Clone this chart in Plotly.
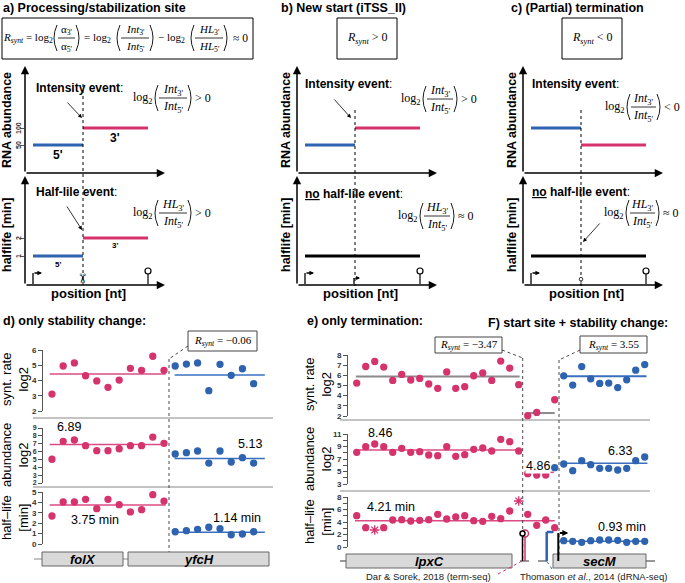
import plotly.graph_objects as go

W, H = 685, 583
PINK = '#d6336c'
PINK_LINE = '#dc4a84'
BLUE = '#2e63b0'
BLUE_LINE = '#3a6fbf'
GREY = '#8a8a8a'
SANS = 'Liberation Sans, Arial, sans-serif'
SERIF = 'Liberation Serif, Times New Roman, serif'

# ---- schematics a) b) c)  (position in nt, abundance, half-life) ----
schem_5p = [0, 100]
schem_3p = [100, 230]
schem_site = 100
a_abund = [50, 100]   # 5', 3'
b_abund = [50, 100]
c_abund = [100, 50]
a_hl = [1, 2]
b_hl = [1, 1]
c_hl = [1, 1]

# ---- d) folX / yfcH ----
folx_pos = [0, 1, 2, 3, 4, 5, 6, 7, 8, 9, 10]
yfch_pos = [11, 12, 13, 14, 15, 16, 17, 18]
folx_synt = [3.11, 4.95, 5.15, 4.31, 3.97, 3.55, 4.03, 4.80, 4.67, 5.59, 4.67]
yfch_synt = [4.95, 5.08, 5.15, 3.33, 5.06, 4.34, 4.77, 3.79]
folx_abund = [5.02, 7.31, 7.47, 6.75, 6.11, 6.11, 6.36, 6.75, 6.75, 7.85, 7.05]
yfch_abund = [5.69, 5.86, 6.07, 4.54, 6.07, 4.67, 5.22, 4.54]
folx_hl = [2.69, 4.04, 4.04, 4.30, 3.40, 4.30, 3.78, 3.08, 3.30, 4.74, 4.13]
yfch_hl = [1.18, 1.28, 1.41, 1.61, 1.47, 0.89, 0.96, 1.18]
d_means = {'synt': [4.43, 4.36], 'abund': [6.89, 5.13], 'hl': [3.75, 1.14]}

# ---- e/F) lpxC / intergenic / secM ----
lpxc_pos = [0, 1, 2, 3, 4, 5, 6, 7, 8, 9, 10, 11, 12, 13, 14, 15, 16, 17, 18]
lpxc_synt = [5.24, 6.87, 7.36, 6.81, 5.50, 6.09, 5.54, 5.70, 5.15, 4.72, 6.34, 4.72,
             4.88, 5.96, 6.23, 5.50, 7.40, 6.71, 5.08]
lpxc_abund = [8.07, 8.97, 9.40, 8.97, 8.07, 8.71, 8.07, 8.17, 7.64, 7.53, 8.97, 7.43,
              7.69, 8.55, 8.76, 8.28, 10.15, 9.77, 8.28]
lpxc_hl_pos = [0, 1, 3, 4, 5, 6, 7, 8, 9, 10, 11, 12, 13, 14, 15, 16, 17]
lpxc_hl = [5.01, 3.09, 3.09, 4.32, 4.37, 4.16, 4.27, 4.37, 5.23, 4.48, 4.80, 5.01,
           4.21, 4.11, 4.91, 4.53, 5.76]
lpxc_hl_star_pos = [2, 18]
lpxc_hl_star = [2.72, 7.36]
mid_pos = [19, 20, 21, 22]
mid_synt = [2.03, 2.35, 1.90, 3.60]
mid_abund_pos = [19, 20, 21]
mid_abund = [4.65, 4.44, 4.44]
mid_hl = [5.23, 3.47, 4.32, 3.09]
secm_pos = [23, 24, 25, 26, 27, 28, 29, 30, 31, 32]
secm_synt = [5.95, 5.04, 6.86, 5.66, 5.20, 5.24, 4.80, 5.56, 6.51, 7.06]
secm_abund_pos = [22, 23, 24, 25, 26, 27, 28, 29, 30, 31, 32]
secm_abund = [5.61, 6.20, 5.13, 6.73, 6.09, 5.51, 5.51, 5.24, 5.51, 6.73, 7.32]
secm_hl = [1.01, 0.91, 0.75, 1.01, 1.12, 1.12, 1.07, 0.75, 0.91, 0.91]
e_means = {'synt': [5.88, 2.29, 5.92], 'abund': [8.46, 4.86, 6.33], 'hl': [4.21, 0.93]}


def X(p):
    return p / W


def Y(p):
    return 1 - p / H


fig = go.Figure()
ann = []
shp = []
lay = {}
nax = [0]


def txt(x, y, s, size=12, family=SANS, anchor='left', color='black', angle=0, bold=False, bg=None):
    d = dict(x=X(x), y=Y(y), xref='paper', yref='paper', text=s, showarrow=False,
             xanchor=anchor, yanchor='middle', textangle=angle, borderpad=0,
             font=dict(size=size, family=family, color=color, weight='bold' if bold else 'normal'))
    if bg:
        d['bgcolor'] = bg
    ann.append(d)


def seg(x0, y0, x1, y1, color='black', width=1, dash=None):
    shp.append(dict(type='line', xref='paper', yref='paper', x0=X(x0), y0=Y(y0), x1=X(x1), y1=Y(y1),
                    line=dict(color=color, width=width, dash=dash)))


def rect(x0, y0, x1, y1, fill='rgba(0,0,0,0)', color='black', width=1):
    shp.append(dict(type='rect', xref='paper', yref='paper', x0=X(x0), y0=Y(y0), x1=X(x1), y1=Y(y1),
                    fillcolor=fill, line=dict(color=color, width=width)))


def arrow(x0, y0, x1, y1, width=1, size=1, head=2, color='black'):
    ann.append(dict(x=X(x1), y=Y(y1), ax=x0 - x1, ay=y0 - y1, xref='paper', yref='paper',
                    axref='pixel', ayref='pixel', text='', showarrow=True, arrowhead=head,
                    arrowsize=size, arrowwidth=width, arrowcolor=color, standoff=0))


def paren(x, y, h, left=True):
    c = x - 6 if left else x + 6
    shp.append(dict(type='path', xref='paper', yref='paper',
                    path=f'M {X(x)},{Y(y - h)} Q {X(c)},{Y(y)} {X(x)},{Y(y + h)}',
                    line=dict(color='black', width=0.9)))


def frac(x, y, fw, num, den, size=12):
    paren(x + 4, y, 13, True)
    seg(x + 5, y, x + 5 + fw, y, width=0.8)
    txt(x + 5 + fw / 2, y - 8, num, size, SERIF, 'center')
    txt(x + 5 + fw / 2, y + 9, den, size, SERIF, 'center')
    paren(x + 6 + fw, y, 13, False)
    return x + 11 + fw


def log_ratio(x, y, num, den, rhs, fw=28, size=12):
    txt(x, y, 'log<sub>2</sub>', size, SERIF)
    r = frac(x + 22, y, fw, num, den, size)
    txt(r + 1, y, rhs, size, SERIF)


def tss(x, y0, h, w, color='black', width=1.3, size=0.7):
    seg(x, y0, x, y0 - h, color, width)
    arrow(x, y0 - h, x + w, y0 - h, width=width, size=size, color=color)


def lolli(x, y0, h, r, color='black', width=1.2):
    seg(x, y0, x, y0 - h, color, width)
    shp.append(dict(type='circle', xref='paper', yref='paper', x0=X(x - r), x1=X(x + r),
                    y0=Y(y0 - h), y1=Y(y0 - h - 2 * r), fillcolor='white',
                    line=dict(color=color, width=width)))


def axes(xd, yd, xr, yr, ticks=None, labels=None, tsize=8, line=True, showlabels=True):
    nax[0] += 1
    s = '' if nax[0] == 1 else str(nax[0])
    lay['xaxis' + s] = dict(domain=[X(xd[0]), X(xd[1])], range=xr, visible=False,
                            anchor='y' + s, fixedrange=True)
    ya = dict(domain=[Y(yd[1]), Y(yd[0])], range=yr, anchor='x' + s, showgrid=False,
              zeroline=False, showline=line, linecolor='#555', linewidth=1, fixedrange=True)
    if ticks is not None:
        ya.update(tickmode='array', tickvals=ticks,
                  ticktext=labels if labels else [str(v) for v in ticks],
                  ticks='outside', ticklen=4, tickcolor='#555', showticklabels=showlabels,
                  tickfont=dict(size=tsize, family=SANS, color='#333', weight='bold'))
    else:
        ya.update(showticklabels=False, ticks='')
    lay['yaxis' + s] = ya
    return 'x' + s, 'y' + s


def dots(ax, xs, ys, color, size=6, symbol='circle'):
    fig.add_trace(go.Scatter(x=xs, y=ys, mode='markers', xaxis=ax[0], yaxis=ax[1],
                             marker=dict(color=color, size=size, symbol=symbol,
                                         line=dict(color=color, width=1.3)),
                             cliponaxis=False, hoverinfo='skip'))


def hline(ax, x0, x1, v, color, width=1.5):
    fig.add_trace(go.Scatter(x=[x0, x1], y=[v, v], mode='lines', xaxis=ax[0], yaxis=ax[1],
                             line=dict(color=color, width=width), cliponaxis=False,
                             hoverinfo='skip'))


# =================== schematics ===================
SX = [-16, 260]
panels = [  # x domain left, abundance, half-life, tick labels
    (25, a_abund, a_hl, True),
    (297, b_abund, b_hl, False),
    (523, c_abund, c_hl, False),
]
for k, (x0, ab, hl, tk) in enumerate(panels):
    up = axes((x0, x0 + 138), (67, 173), SX, [-32, 279],
              ticks=a_abund if tk else None, line=False, showlabels=False)
    lo = axes((x0, x0 + 138), (177, 285), SX, [-0.61, 5.39],
              ticks=a_hl if tk else None, line=False, showlabels=False)
    hline(up, schem_5p[0], schem_5p[1], ab[0], BLUE, 3)
    hline(up, schem_3p[0], schem_3p[1], ab[1], PINK, 3)
    if hl[0] == hl[1]:
        hline(lo, schem_5p[0], schem_3p[1], hl[0], 'black', 3)
    else:
        hline(lo, schem_5p[0], schem_5p[1], hl[0], BLUE, 3)
        hline(lo, schem_3p[0], schem_3p[1], hl[1], PINK, 3)
    # axis arrows
    arrow(x0, 173, x0, 66, width=1.5, size=1.1)
    arrow(x0, 173, x0 + 140, 173, width=1.5, size=1.1)
    arrow(x0, 285, x0, 176, width=1.5, size=1.1)
    arrow(x0, 285, x0 + 140, 285, width=1.5, size=1.1)
    # site marker
    site_px = x0 + (schem_site - SX[0]) / (SX[1] - SX[0]) * 138
    top = 84 if k == 0 else 110
    seg(site_px, top, site_px, 286, width=1, dash='dot')
    start_px = x0 + (schem_5p[0] - SX[0]) / (SX[1] - SX[0]) * 138
    end_px = x0 + (schem_3p[1] - SX[0]) / (SX[1] - SX[0]) * 138
    tss(start_px, 284, 11, 9)
    lolli(end_px, 284, 10, 3)
    off = 18 if tk else 11
    txt(x0 - off, 120, 'RNA abundance', 12.5, bold=True, angle=-90, anchor='center')
    txt(x0 - off, 235, 'halflife [min]', 12.5, bold=True, angle=-90, anchor='center')
    txt(x0 + 63, 293, 'position [nt]', 13, bold=True, anchor='center')

# rotated tick labels of panel a
for v, yy in zip(a_abund, [145, 128]):
    txt(18, yy, str(v), 7, bold=True, angle=-90, anchor='center', color='#333')
for v, yy in zip(a_hl, [256, 238]):
    txt(18, yy, str(v), 7, bold=True, angle=-90, anchor='center', color='#333')

# panel a extras
txt(2, 8, 'a) Processing/stabilization site', 12.5, bold=True)
rect(2, 18, 253, 59)
txt(2, 38, '<i>R</i><sub><i>synt</i></sub> = log<sub>2</sub>', 11, SERIF)
r = frac(53, 38, 17, 'α<sub>3\'</sub>', 'α<sub>5\'</sub>', 11)
txt(r + 2, 38, '= log<sub>2</sub>', 11, SERIF)
r = frac(r + 35, 38, 28, '<i>Int</i><sub>3\'</sub>', '<i>Int</i><sub>5\'</sub>', 11)
txt(r + 2, 38, '− log<sub>2</sub>', 11, SERIF)
r = frac(r + 35, 38, 28, '<i>HL</i><sub>3\'</sub>', '<i>HL</i><sub>5\'</sub>', 11)
txt(r + 3, 38, '≈ 0', 11.5, SERIF)
txt(35, 88, '<b>Intensity event</b>:', 12)
log_ratio(132, 98, '<i>Int</i><sub>3\'</sub>', '<i>Int</i><sub>5\'</sub>', '> 0')
arrow(66, 101, 82, 118, width=0.8, size=1)
txt(58, 155, "5'", 12, bold=True, anchor='center')
txt(115, 138, "3'", 12, bold=True, anchor='center')
txt(35, 192, '<b>Half-lile event</b>:', 12)
log_ratio(132, 213, '<i>HL</i><sub>3\'</sub>', '<i>Int</i><sub>5\'</sub>', '> 0')
arrow(66, 205, 82, 230, width=0.8, size=1)
txt(58, 264, "5'", 8, bold=True, anchor='center')
txt(115, 245, "3'", 8, bold=True, anchor='center')
txt(83, 278, '✂', 13, angle=90, anchor='center')

# panel b extras
txt(280, 8, 'b) New start (iTSS_II)', 12.5, bold=True)
rect(337, 18, 397, 59)
txt(367, 38, '<i>R</i><sub><i>synt</i></sub> > 0', 12, SERIF, anchor='center')
txt(304, 84, '<b>Intensity event</b>:', 12)
log_ratio(400, 99, '<i>Int</i><sub>3\'</sub>', '<i>Int</i><sub>5\'</sub>', '> 0', fw=26)
arrow(333, 98, 351, 118, width=0.8, size=1)
txt(304, 194, '<b><u>no</u> half-lile event</b>:', 12)
log_ratio(397, 216, '<i>HL</i><sub>3\'</sub>', '<i>Int</i><sub>5\'</sub>', '≈ 0', fw=26)
tss(354, 284, 6, 6, size=0.6)

# panel c extras
txt(510, 8, 'c) (Partial) termination', 12.5, bold=True)
rect(562, 18, 622, 59)
txt(592, 38, '<i>R</i><sub><i>synt</i></sub> < 0', 12, SERIF, anchor='center')
txt(531, 84, '<b>Intensity event</b>:', 12)
log_ratio(604, 107, '<i>Int</i><sub>3\'</sub>', '<i>Int</i><sub>5\'</sub>', '< 0', fw=25)
txt(531, 192, '<b><u>no</u> half-lile event</b>:', 12)
log_ratio(603, 213, '<i>HL</i><sub>3\'</sub>', '<i>Int</i><sub>5\'</sub>', '≈ 0', fw=25)
arrow(601, 222, 583, 242, width=0.8, size=1)
lolli(581, 285, 4, 1.8, width=0.8)

# =================== d) ===================
DX = [-0.80, 19.73]
dS = axes((43, 273), (350, 411), DX, [2, 6], ticks=[2, 3, 4, 5, 6])
dA = axes((43, 273), (428, 483), DX, [2, 9], ticks=[2, 3, 4, 5, 6, 7, 8, 9], tsize=7)
dH = axes((43, 273), (492, 544), DX, [0, 5], ticks=[0, 1, 2, 3, 4, 5])
for ax, key, fy, yy in [(dS, 'synt', folx_synt, yfch_synt), (dA, 'abund', folx_abund, yfch_abund),
                        (dH, 'hl', folx_hl, yfch_hl)]:
    hline(ax, folx_pos[0] - 0.2, folx_pos[-1] + 0.15, d_means[key][0], PINK_LINE)
    hline(ax, yfch_pos[0] - 0.05, yfch_pos[-1] + 1.0, d_means[key][1], BLUE_LINE)
    dots(ax, folx_pos, fy, PINK)
    dots(ax, yfch_pos, yy, BLUE)

txt(2, 321, 'd) only stability change:', 12.5, bold=True)
seg(33, 418, 273, 418, '#888', 1)
seg(33, 487, 273, 487, '#888', 1)
txt(15, 380, 'synt. rate<br>log2', 13, angle=-90, anchor='center')
txt(15, 455, 'abundance<br>log2', 13, angle=-90, anchor='center')
txt(15, 518, 'half–life<br>[min]', 13, angle=-90, anchor='center')
txt(69, 427, str(d_means['abund'][0]), 12.5, anchor='center')
txt(250, 444, str(d_means['abund'][1]), 12.5, anchor='center')
txt(95, 520, f"{d_means['hl'][0]} min", 12.5, anchor='center')
txt(237, 518, f"{d_means['hl'][1]} min", 12.5, anchor='center')
rect(188, 331, 257, 351, fill='white', color='#444')
txt(222.5, 341, '<i>R</i><sub><i>synt</i></sub> = −0.06', 11, SERIF, anchor='center')
seg(188, 346, 169, 359, '#333', 0.9, 'dot')
seg(169, 359, 169, 552, '#333', 0.9, 'dot')
seg(34, 559, 42, 559, '#888', 1)
seg(123, 559, 128, 559, '#888', 1)
rect(42, 552, 123, 566, fill='#d9d9d9', color='#666')
rect(128, 552, 269, 566, fill='#d9d9d9', color='#666')
txt(82.5, 559.5, '<i>folX</i>', 13, bold=True, anchor='center')
txt(198.5, 559.5, '<i>yfcH</i>', 13, bold=True, anchor='center')

# =================== e) / F) ===================
EX = [-0.97, 33.92]
eS = axes((348, 662), (355, 416), EX, [2, 8], ticks=[2, 3, 4, 5, 6, 7, 8])
eA = axes((348, 662), (434, 484), EX, [3, 11], ticks=[3, 4, 5, 6, 7, 8, 9, 10, 11],
          labels=['3', '', '5', '', '7', '', '9', '', '11'])
eH = axes((348, 662), (497, 547), EX, [0, 8], ticks=[0, 1, 2, 3, 4, 5, 6, 7, 8],
          labels=['0', '', '2', '', '4', '', '6', '', '8'])

hline(eS, lpxc_pos[0] - 0.1, lpxc_pos[-1] + 0.1, e_means['synt'][0], GREY, 2)
hline(eS, mid_pos[0] - 0.2, mid_pos[-1], e_means['synt'][1], GREY, 2)
hline(eS, secm_pos[0] - 0.2, secm_pos[-1] + 0.2, e_means['synt'][2], BLUE_LINE, 2)
dots(eS, lpxc_pos, lpxc_synt, PINK)
dots(eS, mid_pos, mid_synt, PINK)
dots(eS, secm_pos, secm_synt, BLUE)

hline(eA, lpxc_pos[0] - 0.1, lpxc_pos[-1] + 0.1, e_means['abund'][0], PINK_LINE)
hline(eA, mid_abund_pos[0] - 0.2, mid_pos[-1] - 0.1, e_means['abund'][1], PINK_LINE)
hline(eA, secm_pos[0] - 0.2, secm_pos[-1] + 0.3, e_means['abund'][2], BLUE_LINE)
dots(eA, lpxc_pos, lpxc_abund, PINK)
dots(eA, mid_abund_pos, mid_abund, PINK)
dots(eA, secm_abund_pos, secm_abund, BLUE)

hline(eH, lpxc_pos[0] - 0.2, mid_pos[-1], e_means['hl'][0], PINK_LINE)
hline(eH, secm_pos[0] - 0.4, secm_pos[-1] + 0.3, e_means['hl'][1], BLUE_LINE)
dots(eH, lpxc_hl_pos, lpxc_hl, PINK)
dots(eH, lpxc_hl_star_pos, lpxc_hl_star, PINK, size=8, symbol='asterisk-open')
dots(eH, mid_pos, mid_hl, PINK)
dots(eH, secm_pos, secm_hl, BLUE)

txt(306, 321, 'e) only termination:', 12.5, bold=True)
txt(487, 323, 'F) start site + stability change:', 12.5, bold=True)
seg(340, 420, 650, 420, '#888', 1)
seg(340, 491, 650, 491, '#888', 1)
txt(318, 385, 'synt. rate<br>log2', 13, angle=-90, anchor='center')
txt(318, 459, 'abundance<br>log2', 13, angle=-90, anchor='center')
txt(318, 522, 'half–life<br>[min]', 13, angle=-90, anchor='center')
txt(380.5, 433, str(e_means['abund'][0]), 12.5, anchor='center')
txt(619.5, 451, str(e_means['abund'][2]), 12.5, anchor='center')
txt(537.5, 466, str(e_means['abund'][1]), 12.5, anchor='center', bg='white')
txt(390.5, 507, f"{e_means['hl'][0]} min", 12.5, anchor='center')
txt(622, 527, f"{e_means['hl'][1]} min", 12.5, anchor='center')

rect(435, 337, 502, 353, fill='white', color='#444')
txt(468.5, 345, '<i>R</i><sub><i>synt</i></sub> = −3.47', 11, SERIF, anchor='center')
rect(580, 336, 647, 353, fill='white', color='#444')
txt(613.5, 344.5, '<i>R</i><sub><i>synt</i></sub> = 3.55', 11, SERIF, anchor='center')
seg(502, 350, 522.7, 358, '#333', 0.9, 'dot')
seg(522.7, 358, 522.7, 561, '#333', 0.9, 'dot')
seg(580, 350, 559, 360, '#333', 0.9, 'dot')
seg(559, 360, 559, 558, '#333', 0.9, 'dot')

seg(340, 561, 662, 561, '#333', 1.2, 'dash')
rect(346, 554, 512, 568, fill='#d9d9d9', color='#666')
rect(553, 554, 646, 568, fill='#d9d9d9', color='#666')
txt(429, 561.5, '<i>lpxC</i>', 13, bold=True, anchor='center')
txt(599.5, 561.5, '<i>secM</i>', 13, bold=True, anchor='center')
lolli(525, 561, 24, 3.5, PINK, 1.5)
lolli(522.5, 561, 25, 2.5, 'black', 1.5)
seg(546.7, 561, 546.7, 532, BLUE, 2.5)
seg(546.7, 532, 553.5, 532, BLUE, 2.5)
tss(558.3, 561, 28, 10, 'black', 2, 0.6)
seg(498, 574, 522, 561, PINK, 1, 'dot')
seg(552, 569, 546.7, 561, BLUE, 1, 'dot')
txt(428, 576, 'Dar & Sorek, 2018 (term-seq)', 9.5, anchor='center', color='#222')
txt(593, 576, 'Thomason <i>et al</i>., 2014 (dRNA-seq)', 9.5, anchor='center', color='#222')

fig.update_layout(width=W, height=H, margin=dict(l=0, r=0, t=0, b=0, autoexpand=False),
                  paper_bgcolor='white', plot_bgcolor='white', showlegend=False,
                  annotations=ann, shapes=shp, **lay)
# the page's default body margin would push the 685x583 figure off the window
fig.write_html('out.html', config={'displayModeBar': False},
               post_script="document.body.style.margin='0px';")
